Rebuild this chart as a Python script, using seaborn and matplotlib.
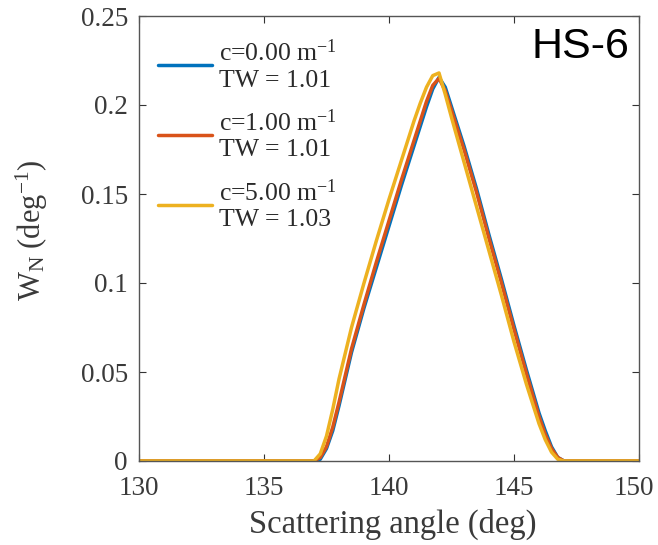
import matplotlib
matplotlib.use("Agg")
import matplotlib.pyplot as plt
import matplotlib.transforms as mtransforms
import seaborn as sns
import pandas as pd
from matplotlib.ticker import FuncFormatter

# ---- data ----
angle = [130, 136.5, 137, 137.25, 137.5, 137.75, 138, 138.5, 139, 139.5, 140, 140.5,
         141, 141.25, 141.5, 141.75, 142, 142.25, 142.5, 143, 143.5, 144, 144.5,
         145, 145.5, 146, 146.25, 146.5, 146.75, 147, 147.5, 150]

w_c0 = [0, 0, 0, 0.001, 0.007, 0.017, 0.031, 0.061, 0.086, 0.109, 0.132, 0.155,
        0.177, 0.188, 0.199, 0.209, 0.2155, 0.210, 0.199, 0.177, 0.153, 0.127, 0.102,
        0.076, 0.051, 0.027, 0.017, 0.008, 0.002, 0, 0, 0]

w_c1 = [0, 0, 0, 0.002, 0.008, 0.019, 0.033, 0.063, 0.088, 0.112, 0.135, 0.158,
        0.180, 0.191, 0.202, 0.211, 0.2150, 0.208, 0.197, 0.175, 0.151, 0.125, 0.100,
        0.074, 0.049, 0.025, 0.015, 0.007, 0.002, 0, 0, 0]

w_c5 = [0, 0, 0, 0.004, 0.014, 0.029, 0.046, 0.075, 0.100, 0.124, 0.147, 0.169,
        0.191, 0.201, 0.210, 0.2165, 0.2180, 0.206, 0.193, 0.168, 0.143, 0.118, 0.093,
        0.067, 0.043, 0.021, 0.012, 0.005, 0.001, 0, 0, 0]

series_labels = ["c=0.00 m$^{-1}$\nTW = 1.01",
                 "c=1.00 m$^{-1}$\nTW = 1.01",
                 "c=5.00 m$^{-1}$\nTW = 1.03"]
colors = ["#0072BD", "#D95319", "#EDB120"]

x_ticks = [130, 135, 140, 145, 150]
y_ticks = [0, 0.05, 0.1, 0.15, 0.2, 0.25]

rows = []
for lab, vals in zip(series_labels, [w_c0, w_c1, w_c5]):
    for a, v in zip(angle, vals):
        rows.append({"angle": a, "W": v, "series": lab})
df = pd.DataFrame(rows)

# ---- style ----
sns.set_style("white")
plt.rcParams["font.family"] = ["Liberation Serif", "DejaVu Serif"]
plt.rcParams["mathtext.fontset"] = "custom"
plt.rcParams["mathtext.rm"] = "Liberation Serif"
plt.rcParams["mathtext.it"] = "Liberation Serif:italic"
plt.rcParams["mathtext.default"] = "regular"

fig = plt.figure(figsize=(6.58, 5.45), dpi=100)
ax = fig.add_axes([139/658, 84/545, 500/658, 445/545])

sns.lineplot(data=df, x="angle", y="W", hue="series", palette=colors,
             hue_order=series_labels, linewidth=2.5, ax=ax, sort=False,
             estimator=None)

ax.set_xlim(130, 150)
ax.set_ylim(0, 0.25)
ax.set_xticks(x_ticks)
ax.set_yticks(y_ticks)
ax.yaxis.set_major_formatter(FuncFormatter(lambda v, p: f"{v:g}"))
ax.tick_params(direction="in", length=5, width=0.8, colors="#333333",
               labelcolor="#3a3a3a", labelsize=19.5, top=True, right=True,
               bottom=True, left=True)
ax.tick_params(axis="x", pad=11)
ax.tick_params(axis="y", pad=8)
for s in ax.spines.values():
    s.set_color("#555555")
    s.set_linewidth(1.0)
    s.set_visible(True)

# keep the last x tick label inside the image edge
fig.canvas.draw()
last = ax.get_xticklabels()[-1]
last.set_transform(last.get_transform() +
                   mtransforms.ScaledTranslation(-4/72, 0, fig.dpi_scale_trans))

ax.set_xlabel("Scattering angle (deg)", fontsize=23.5, color="#3a3a3a")
ax.xaxis.set_label_coords(0.508, -0.108)
ax.set_ylabel("W$_N$ (deg$^{-1}$)", fontsize=22, color="#3a3a3a")
ax.yaxis.set_label_coords(-0.178, 0.519)

handles, labels = ax.get_legend_handles_labels()
leg = ax.legend(handles, labels, loc="upper left", frameon=False, fontsize=18.5,
                handlelength=2.1, handletextpad=0.3, labelspacing=0.7,
                borderaxespad=0.0, bbox_to_anchor=(0.017, 0.97))
for t in leg.get_texts():
    t.set_color("#2a2a2a")
    t.set_linespacing(1.2)
for h in leg.get_lines():
    h.set_linewidth(2.5)

ax.text(0.98, 0.93, "HS-6", transform=ax.transAxes, ha="right", va="center",
        fontsize=31, family="Liberation Sans", color="black")

fig.savefig("out.png", dpi=100)
